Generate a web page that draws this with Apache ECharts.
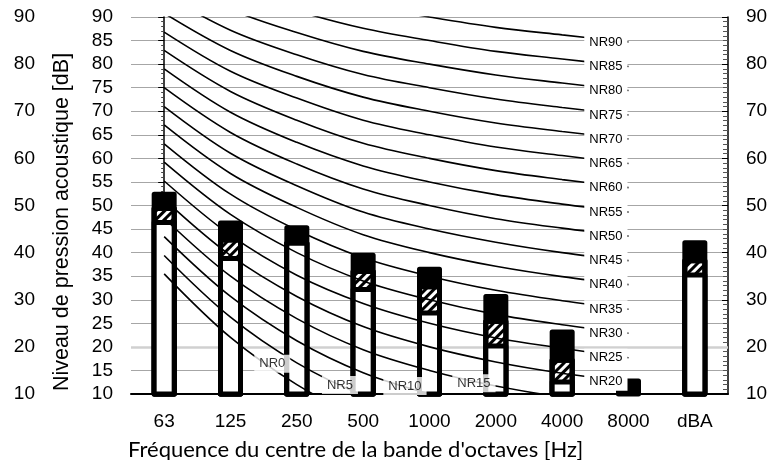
<!DOCTYPE html>
<html>
<head>
<meta charset="utf-8">
<script src="https://cdn.jsdelivr.net/npm/echarts@6/dist/echarts.min.js"></script>
<style>
html,body{margin:0;padding:0;background:#fff;}
#chart{width:771px;height:460px;}
</style>
</head>
<body>
<div id="chart"></div>
<script>
// ---- data ----
const categories = ['63', '125', '250', '500', '1000', '2000', '4000', '8000', 'dBA'];
const totalLevel = [52.9, 46.8, 45.8, 40.0, 37.0, 31.2, 23.7, 13.3, 42.6];
const hatchLevel = [49.9, 43.2, 42.5, 36.5, 33.3, 25.9, 17.7, '-', 38.8];
const whiteLevel = [46.9, 39.3, 42.5, 32.7, 27.7, 20.7, 13.1, '-', 35.8];

// NR curves at 63 ... 8000 Hz
const NR0  = [35.5, 22.0, 12.0, 4.8, 0, -3.5, -6.1, -8.0];
const NR5  = [39.4, 26.3, 16.6, 9.7, 5, 1.6, -1.0, -2.8];
const NR10 = [43.4, 30.7, 21.3, 14.5, 10, 6.6, 4.2, 2.3];
const NR15 = [47.3, 35.0, 26.0, 19.4, 15, 11.7, 9.3, 7.4];
const NR20 = [51.3, 39.4, 30.7, 24.3, 20, 16.8, 14.4, 12.6];
const NR25 = [55.2, 43.7, 35.2, 29.2, 25, 21.9, 19.7, 17.7];
const NR30 = [59.2, 48.1, 40.0, 34.0, 30, 26.9, 24.7, 22.9];
const NR35 = [63.1, 52.4, 44.8, 38.9, 35, 32.0, 29.8, 28.0];
const NR40 = [67.1, 56.8, 49.6, 43.8, 40, 37.1, 34.9, 33.2];
const NR45 = [71.0, 61.1, 54.2, 48.6, 45, 42.2, 40.0, 38.3];
const NR50 = [75.0, 65.5, 58.8, 53.5, 50, 47.2, 45.2, 43.5];
const NR55 = [79.0, 69.8, 63.4, 58.4, 55, 52.3, 50.3, 48.6];
const NR60 = [82.9, 74.2, 68.1, 63.2, 60, 57.4, 55.5, 53.8];
const NR65 = [86.8, 78.5, 72.8, 68.1, 65, 62.4, 60.6, 58.9];
const NR70 = [90.8, 82.9, 77.4, 73.0, 70, 67.5, 65.7, 64.1];
const NR75 = [94.7, 87.2, 82.0, 77.8, 75, 72.6, 70.8, 69.2];
const NR80 = [98.7, 91.6, 86.7, 82.7, 80, 77.7, 76.0, 74.4];
const NR85 = [102.6, 95.9, 91.3, 87.6, 85, 82.7, 81.1, 79.5];
const NR90 = [106.6, 100.3, 95.9, 92.5, 90, 87.8, 86.2, 84.7];

const nrNames = ['NR0','NR5','NR10','NR15','NR20','NR25','NR30','NR35','NR40','NR45','NR50','NR55','NR60','NR65','NR70','NR75','NR80','NR85','NR90'];
const nrCurves = [NR0,NR5,NR10,NR15,NR20,NR25,NR30,NR35,NR40,NR45,NR50,NR55,NR60,NR65,NR70,NR75,NR80,NR85,NR90];

// label anchor points (category position, dB) for curves that leave the plot before 8000 Hz
const lowLabelNames = ['NR0', 'NR5', 'NR10', 'NR15'];
const lowLabelPos = [[1.63, 16.4], [2.65, 11.9], [3.63, 11.7], [4.67, 12.3]];

const leftTicks = [10, 90, 5];
const outerTicks = [10, 90, 10];

// ---- chart ----
const chart = echarts.init(document.getElementById('chart'), null, {renderer: 'canvas'});
const numFont = 'Arial, "Liberation Sans", sans-serif';
const nrLabelStyle = {
  show: true, color: '#000', fontFamily: numFont, fontSize: 13,
  backgroundColor: '#fff', padding: [3, 5, 2, 5]
};

const series = [];
const barBorder = {borderColor: '#000', borderWidth: 5, borderJoin: 'round'};
series.push({
  type: 'bar', name: 'total', data: totalLevel, barWidth: 25, barGap: '-100%', z: 2,
  itemStyle: Object.assign({color: '#000'}, barBorder), silent: true
});
series.push({
  type: 'bar', name: 'hatch', data: hatchLevel, barWidth: 25, barGap: '-100%', z: 2,
  itemStyle: Object.assign({
    color: '#fff',
    decal: {symbol: 'rect', symbolSize: 1, dashArrayX: [1, 0], dashArrayY: [3, 3], rotation: -Math.PI / 4, color: '#000'}
  }, barBorder), silent: true
});
series.push({
  type: 'bar', name: 'white', data: whiteLevel, barWidth: 25, barGap: '-100%', z: 2,
  itemStyle: Object.assign({color: '#fff'}, barBorder), silent: true
});

nrCurves.forEach(function (vals, i) {
  const s = {
    type: 'line', name: nrNames[i], data: vals, smooth: 0.35, symbol: 'none', z: 4,
    lineStyle: {color: '#000', width: 1.6}, clip: true, silent: true, animation: false
  };
  if (vals[7] >= 10) {
    s.markPoint = {
      symbol: 'rect', symbolSize: 0, silent: true, animation: false, z: 6,
      data: [{coord: ['8000', vals[7]], label: Object.assign({position: 'left', distance: 1, formatter: nrNames[i]}, nrLabelStyle)}]
    };
  }
  series.push(s);
});

// light line at 20 dB (behind the bars)
series.push({
  type: 'line', data: [], xAxisIndex: 0, yAxisIndex: 0, silent: true, z: 1,
  markLine: {symbol: 'none', silent: true, animation: false, label: {show: false}, z: 1,
    lineStyle: {color: '#d0d0d0', width: 2.5, type: 'solid'}, data: [{yAxis: 20}]}
});

series.push({
  type: 'scatter', xAxisIndex: 1, yAxisIndex: 0, symbolSize: 0, z: 6, silent: true,
  data: lowLabelPos.map(function (p, i) { return {value: p, name: lowLabelNames[i]}; }),
  label: Object.assign({position: 'inside', formatter: function (p) { return p.name; }}, nrLabelStyle)
});

const option = {
  animation: false,
  grid: {left: 131, right: 43, top: 17, bottom: 66},
  xAxis: [{
    type: 'category', data: categories, boundaryGap: true,
    axisLine: {lineStyle: {color: '#000', width: 2}},
    axisTick: {show: false},
    axisLabel: {color: '#000', fontFamily: numFont, fontSize: 19, margin: 18}
  }, {
    type: 'value', min: -0.5, max: 8.5, show: false
  }],
  yAxis: [{
    type: 'value', position: 'left', min: leftTicks[0], max: leftTicks[1], interval: leftTicks[2],
    axisLine: {show: true, lineStyle: {color: '#000', width: 1.5}},
    axisTick: {show: true, length: 6, lineStyle: {color: '#000'}},
    minorTick: {show: true, splitNumber: 5, length: 3, lineStyle: {color: '#444'}},
    axisLabel: {color: '#000', fontFamily: numFont, fontSize: 19, margin: 18},
    splitLine: {show: true, lineStyle: {color: '#a6a6a6', width: 1}}
  }, {
    type: 'value', position: 'left', offset: 96, min: outerTicks[0], max: outerTicks[1], interval: outerTicks[2],
    axisLine: {show: false}, axisTick: {show: false},
    axisLabel: {color: '#000', fontFamily: numFont, fontSize: 19, margin: 0},
    splitLine: {show: false}
  }, {
    type: 'value', position: 'right', min: outerTicks[0], max: outerTicks[1], interval: outerTicks[2],
    axisLine: {show: true, lineStyle: {color: '#000', width: 1.5}},
    axisTick: {show: true, inside: true, length: 6, lineStyle: {color: '#000'}},
    minorTick: {show: true, splitNumber: 10, length: 5, lineStyle: {color: '#555'}},
    axisLabel: {color: '#000', fontFamily: numFont, fontSize: 19, margin: 18},
    splitLine: {show: false}
  }],
  graphic: [{
    type: 'text', x: 62, y: 222, rotation: Math.PI / 2, silent: true,
    style: {text: 'Niveau de pression acoustique [dB]', fill: '#000', font: '21.5px Arial, "Liberation Sans", sans-serif', textAlign: 'center', textVerticalAlign: 'middle'}
  }, {
    type: 'text', x: 128, y: 450, silent: true,
    style: {text: "Fréquence du centre de la bande d'octaves [Hz]", fill: '#000', font: '22px Lato, sans-serif', textAlign: 'left', textVerticalAlign: 'middle'}
  }],
  series: series
};
chart.setOption(option);
</script>
</body>
</html>
